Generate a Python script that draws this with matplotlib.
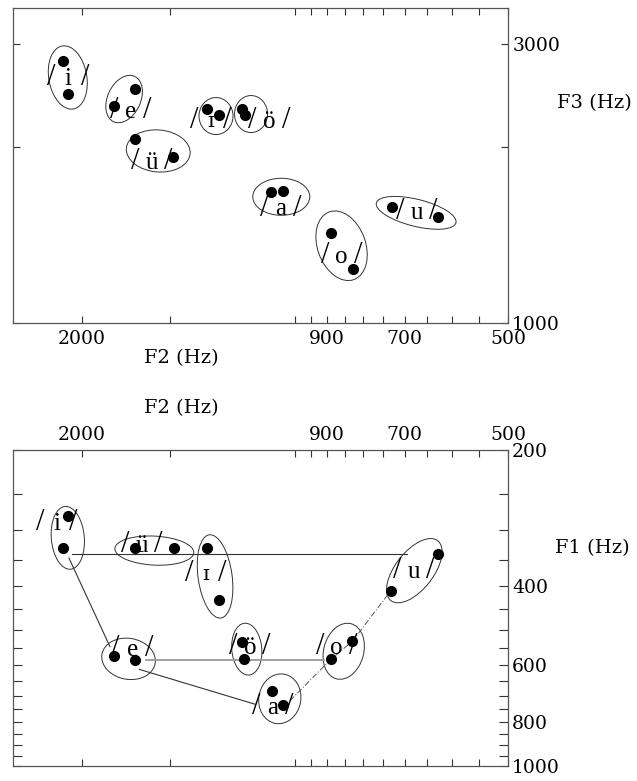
import matplotlib
matplotlib.use("Agg")
import matplotlib.pyplot as plt
from matplotlib.patches import Ellipse
from matplotlib.ticker import FixedLocator, NullFormatter, FixedFormatter
from matplotlib.transforms import ScaledTranslation

plt.rcParams['font.family'] = ['Liberation Serif', 'DejaVu Serif']

vowels = ['i', 'e', 'ü', 'ɪ', 'ö', 'a', 'o', 'u']

# upper panel: F2 vs F3, two speakers per vowel
top_f2 = [[2123, 2094], [1681, 1800], [1681, 1486], [1331, 1278],
          [1187, 1176], [1081, 1040], [890, 827], [730, 628]]
top_f3 = [[2810, 2466], [2515, 2352], [2065, 1923], [2323, 2270],
          [2329, 2270], [1673, 1684], [1427, 1238], [1577, 1516]]

# ellipse centres (Hz) and size in px / angle
top_ell_f2 = [2092, 1742, 1559, 1292, 1153, 1045, 859, 674]
top_ell_f3 = [2633, 2418, 1970, 2261, 2279, 1644, 1355, 1543]
top_ell_size = [(64, 38, 100), (50, 33, 65), (64, 42, -5), (37, 34, 90),
                (37, 33, 90), (57, 37, 0), (72, 48, 110), (82, 27, -14)]
top_lab_f2 = [2089, 1705, 1593, 1313, 1087, 1047, 859, 673]
top_lab_f3 = [2617, 2300, 1876, 2211, 2211, 1564, 1295, 1540]

# lower panel: F2 vs F1
bot_f2 = [[2094, 2123], [1800, 1681], [1681, 1483], [1331, 1278],
          [1189, 1179], [1078, 1040], [889, 829], [732, 627]]
bot_f1 = [[280, 330], [571, 583], [330, 330], [330, 430],
          [531, 581], [682, 734], [581, 530], [410, 340]]

bot_ell_f2 = [2092, 1717, 1579, 1296, 1169, 1050, 853, 678]
bot_ell_f1 = [313, 580, 334, 381, 552, 711, 558, 370]
bot_ell_size = [(63, 33, 95), (54, 41, -10), (79, 29, -3), (84, 34, 98),
                (52, 30, 95), (50, 42, 80), (57, 40, 75), (76, 38, 52)]
bot_lab_f2 = [2169, 1696, 1645, 1335, 1157, 1074, 873, 679]
bot_lab_f1 = [292, 554, 326, 378, 549, 745, 549, 373]

# connecting lines in the lower panel
line_iu = ([2066, 695], [339, 339])
line_ie = ([2084, 1824], [347, 545])
line_eo = ([1624, 910], [582, 582])
line_ea = ([1658, 1138], [612, 731])
line_au = ([1016, 889, 829, 732], [718, 581, 530, 410])

f2_major = [2000, 900, 700, 500]
f2_minor = [1500, 1000, 950, 850, 800, 750, 650, 600, 550]

fig = plt.figure(figsize=(6.37, 7.81), dpi=100)
ax1 = fig.add_axes([0.0204, 0.5868, 0.7771, 0.4026])
ax2 = fig.add_axes([0.0204, 0.0196, 0.7771, 0.4042])

label_font = dict(family=['DejaVu Serif'], size=14)


def setup_x(ax):
    ax.set_xscale('log')
    ax.set_xlim(2500, 500)
    ax.xaxis.set_major_locator(FixedLocator(f2_major))
    ax.xaxis.set_major_formatter(FixedFormatter([str(v) for v in f2_major]))
    ax.xaxis.set_minor_locator(FixedLocator(f2_minor))
    ax.xaxis.set_minor_formatter(NullFormatter())


def draw_vowels(ax, xs, ys, ex, ey, esize, lx, ly):
    for k, v in enumerate(vowels):
        ax.plot(xs[k], ys[k], 'o', color='black', ms=7, zorder=3)
        w, h, ang = esize[k]
        tr = fig.dpi_scale_trans + ScaledTranslation(ex[k], ey[k], ax.transData)
        ax.add_patch(Ellipse((0, 0), w / 100, h / 100, angle=ang, transform=tr,
                             fill=False, ec='#333333', lw=0.7))
        fam = ['DejaVu Serif'] if v == 'ɪ' else ['Liberation Serif', 'DejaVu Serif']
        size = 15 if v == 'ɪ' else 18
        ax.annotate(v, (lx[k], ly[k]), ha='center', va='center', fontsize=size, family=fam)
        for dx in (-12, 12):
            ax.annotate('/', (lx[k], ly[k]), xytext=(dx, 1), textcoords='offset points',
                        ha='center', va='center', fontsize=22)


for ax in (ax1, ax2):
    for s in ax.spines.values():
        s.set_color('#555555')
        s.set_linewidth(0.9)
    setup_x(ax)

# ---- upper panel ----
ax1.set_yscale('log')
ax1.set_ylim(1000, 3460)
ax1.yaxis.set_major_locator(FixedLocator([1000, 3000]))
ax1.yaxis.set_major_formatter(FixedFormatter(['1000', '3000']))
ax1.yaxis.set_minor_locator(FixedLocator([2000]))
ax1.yaxis.set_minor_formatter(NullFormatter())
ax1.tick_params(which='both', direction='in', length=5, width=0.8, color='#333333',
                top=True, bottom=True, left=True, right=True,
                labelleft=False, labelright=True, labelbottom=True, labeltop=False)
ax1.tick_params(axis='x', pad=5)
ax1.tick_params(axis='y', pad=3)
for lab in ax1.get_xticklabels() + ax1.get_yticklabels():
    lab.set_fontfamily('DejaVu Serif')
    lab.set_fontsize(13.5)
draw_vowels(ax1, top_f2, top_f3, top_ell_f2, top_ell_f3, top_ell_size, top_lab_f2, top_lab_f3)
ax1.text(0.34, -0.112, 'F2 (Hz)', transform=ax1.transAxes, ha='center', va='center', **label_font)
ax1.text(1.175, 0.699, 'F3 (Hz)', transform=ax1.transAxes, ha='center', va='center', **label_font)

# ---- lower panel ----
ax2.set_yscale('log')
ax2.set_ylim(1000, 200)
ax2.yaxis.set_major_locator(FixedLocator([200, 400, 600, 800, 1000]))
ax2.yaxis.set_major_formatter(FixedFormatter(['200', '400', '600', '800', '1000']))
ax2.yaxis.set_minor_locator(FixedLocator([250, 300, 350, 450, 500, 550, 650, 700, 750, 850, 900, 950]))
ax2.yaxis.set_minor_formatter(NullFormatter())
ax2.tick_params(which='both', direction='in', length=5, width=0.8, color='#333333',
                top=True, bottom=True, left=True, right=True,
                labelleft=False, labelright=True, labelbottom=False, labeltop=True)
ax2.tick_params(axis='y', which='both', length=6.5, pad=3)
ax2.tick_params(axis='x', pad=4)
for lab in ax2.get_xticklabels() + ax2.get_yticklabels():
    lab.set_fontfamily('DejaVu Serif')
    lab.set_fontsize(13.5)

ax2.plot(*line_iu, color='#333333', lw=0.8)
ax2.plot(*line_ie, color='#333333', lw=0.8)
ax2.plot(*line_eo, color='#999999', lw=1.3)
ax2.plot(*line_ea, color='#333333', lw=0.8)
ax2.plot(*line_au, color='#555555', lw=0.7, ls=(0, (6, 2, 1, 2)))
draw_vowels(ax2, bot_f2, bot_f1, bot_ell_f2, bot_ell_f1, bot_ell_size, bot_lab_f2, bot_lab_f1)
ax2.text(0.34, 1.133, 'F2 (Hz)', transform=ax2.transAxes, ha='center', va='center', **label_font)
ax2.text(1.17, 0.69, 'F1 (Hz)', transform=ax2.transAxes, ha='center', va='center', **label_font)

fig.savefig('out.png', dpi=100)
